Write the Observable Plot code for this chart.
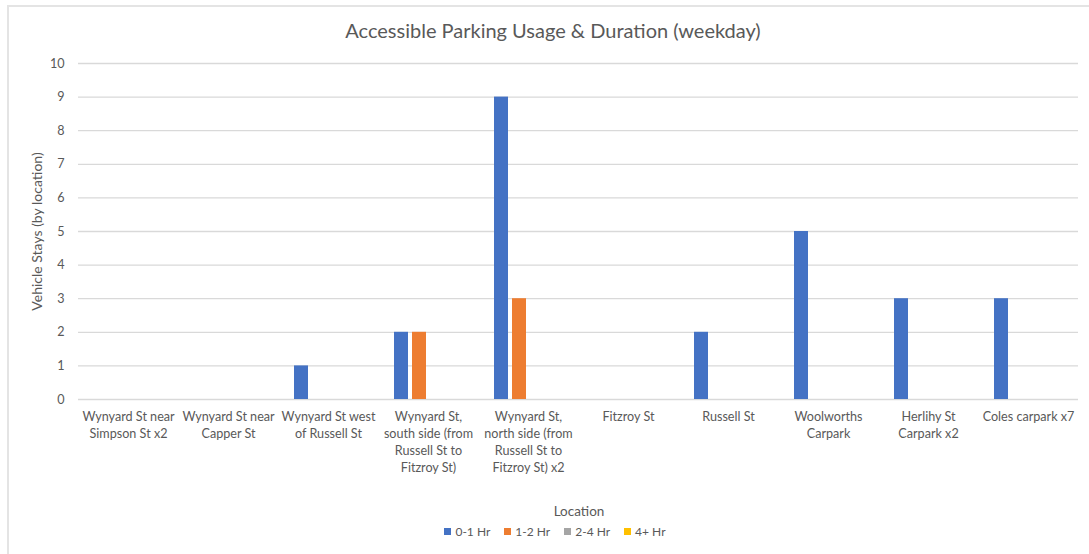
<!DOCTYPE html>
<html>
<head>
<meta charset="utf-8">
<script src="https://cdn.jsdelivr.net/npm/d3@7"></script>
<script src="https://cdn.jsdelivr.net/npm/@observablehq/plot@0.6"></script>
<style>
  html, body { margin: 0; padding: 0; background: #fff; overflow: hidden; }
  #wrap { position: relative; width: 1089px; height: 554px; overflow: hidden; font-family: Lato, "Open Sans", sans-serif; color: #595959; }
  #frame { position: absolute; left: 7px; top: 5px; width: 1200px; height: 700px; border: 2px solid #e4e4e4; box-sizing: border-box; }
  #title { position: absolute; left: 0; width: 1106px; top: 18px; text-align: center; font-size: 20px; color: #595959; }
  #chart { position: absolute; left: 0; top: 0; }
  #xlabel { position: absolute; left: 0; width: 1158px; top: 503px; text-align: center; font-size: 13.5px; }
  #legend { position: absolute; left: 0; width: 1110px; top: 524px; display: flex; justify-content: center; gap: 14px; font-size: 12px; }
  #legend span.item { display: inline-flex; align-items: center; gap: 4px; }
  #legend span.sw { display: inline-block; width: 7px; height: 7px; }
</style>
</head>
<body>
<div id="wrap">
  <div id="frame"></div>
  <div id="chart"></div>
  <div id="title">Accessible Parking Usage &amp; Duration (weekday)</div>
  <div id="xlabel">Location</div>
  <div id="legend"></div>
</div>
<script>
const locations = [
  "Wynyard St near Simpson St x2",
  "Wynyard St near Capper St",
  "Wynyard St west of Russell St",
  "Wynyard St, south side (from Russell St to Fitzroy St)",
  "Wynyard St, north side (from Russell St to Fitzroy St) x2",
  "Fitzroy St",
  "Russell St",
  "Woolworths Carpark",
  "Herlihy St Carpark x2",
  "Coles carpark x7"
];
const locationLabels = [
  "Wynyard St near\nSimpson St x2",
  "Wynyard St near\nCapper St",
  "Wynyard St west\nof Russell St",
  "Wynyard St,\nsouth side (from\nRussell St to\nFitzroy St)",
  "Wynyard St,\nnorth side (from\nRussell St to\nFitzroy St) x2",
  "Fitzroy St",
  "Russell St",
  "Woolworths\nCarpark",
  "Herlihy St\nCarpark x2",
  "Coles carpark x7"
];
const seriesNames = ["0-1 Hr", "1-2 Hr", "2-4 Hr", "4+ Hr"];
const seriesColors = ["#4472C4", "#ED7D31", "#A5A5A5", "#FFC000"];
const hr0to1 = [0, 0, 1, 2, 9, 0, 2, 5, 3, 3];
const hr1to2 = [0, 0, 0, 2, 3, 0, 0, 0, 0, 0];
const hr2to4 = [0, 0, 0, 0, 0, 0, 0, 0, 0, 0];
const hr4plus = [0, 0, 0, 0, 0, 0, 0, 0, 0, 0];
const yTicks = [0, 1, 2, 3, 4, 5, 6, 7, 8, 9, 10];

const seriesValues = [hr0to1, hr1to2, hr2to4, hr4plus];
const data = [];
locations.forEach((loc, i) => {
  seriesNames.forEach((s, j) => {
    data.push({location: loc, series: s, value: seriesValues[j][i]});
  });
});
const labelMap = new Map(locations.map((l, i) => [l, locationLabels[i]]));

const chart = Plot.plot({
  width: 1089,
  height: 500,
  marginLeft: 78,
  marginRight: 11,
  marginTop: 63,
  marginBottom: 101,
  style: {fontFamily: "Lato, 'Open Sans', sans-serif", fontSize: "12.6px", color: "#595959", background: "transparent"},
  fx: {domain: locations, padding: 0, label: null},
  x: {domain: seriesNames, paddingInner: 0.2, paddingOuter: 0.845, axis: null},
  y: {domain: [0, 10], label: null},
  color: {domain: seriesNames, range: seriesColors},
  marks: [
    Plot.gridY(yTicks, {stroke: "#d9d9d9", strokeOpacity: 1, strokeWidth: 1.3}),
    Plot.axisY(yTicks, {tickSize: 0, tickPadding: 14, fill: "#595959", label: null}),
    Plot.axisFx({anchor: "bottom", tickSize: 0, tickPadding: 10, lineHeight: 1.33, fill: "#595959", tickFormat: d => labelMap.get(d), label: null}),
    Plot.text(["Vehicle Stays (by location)"], {frameAnchor: "left", textAnchor: "middle", dx: -41, rotate: -90, fontSize: 14, fill: "#595959", facet: "super", text: d => d}),
    Plot.barY(data, {fx: "location", x: "series", y: "value", fill: "series"})
  ]
});
document.getElementById("chart").appendChild(chart);

const legend = document.getElementById("legend");
seriesNames.forEach((s, i) => {
  const item = document.createElement("span");
  item.className = "item";
  const sw = document.createElement("span");
  sw.className = "sw";
  sw.style.background = seriesColors[i];
  item.appendChild(sw);
  item.appendChild(document.createTextNode(s));
  legend.appendChild(item);
});
</script>
</body>
</html>
